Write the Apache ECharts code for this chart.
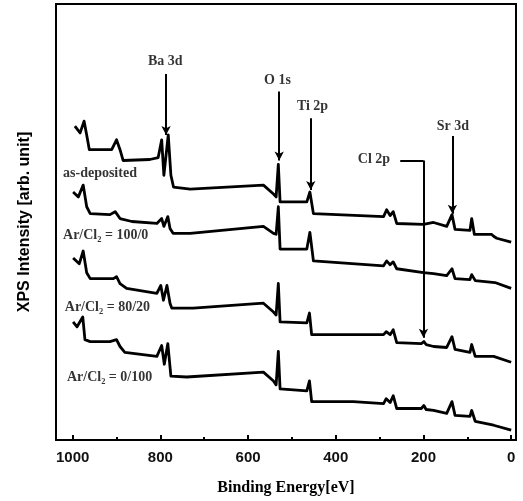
<!DOCTYPE html>
<html>
<head>
<meta charset="utf-8">
<script src="https://cdn.jsdelivr.net/npm/echarts@6/dist/echarts.min.js"></script>
<style>
  html, body { margin: 0; padding: 0; background: #fff; }
  #chart { width: 523px; height: 501px; }
</style>
</head>
<body>
<div id="chart"></div>
<script>
// 结合能 (eV) 与强度 (arb. unit)
const asDeposited = [
  [995, 319], [983, 312], [974, 324], [968, 310], [962, 295], [911, 295], [900, 305], [892, 295],
  [885, 284], [824, 285], [805, 287], [797, 305], [792, 269], [782, 310], [776, 269], [770, 257],
  [732, 255], [565, 259], [542, 250], [536, 247], [531, 280], [527, 242], [466, 242], [459, 252],
  [451, 230], [291, 227], [284, 234], [276, 228], [269, 232], [261, 220], [200, 219], [177, 221],
  [147, 217], [135, 229], [128, 214], [94, 213], [90, 225], [84, 209], [45, 209], [40, 207],
  [33, 205], [0, 201]
]
const ratio100_0 = [
  [999, 252], [987, 247], [976, 259], [968, 237], [960, 230], [915, 229], [903, 232], [892, 225],
  [865, 222], [808, 220], [797, 225], [792, 217], [783, 227], [778, 215], [771, 210], [732, 210],
  [565, 217], [542, 210], [536, 209], [531, 237], [527, 194], [466, 194], [459, 211], [451, 182],
  [291, 177], [284, 182], [276, 178], [269, 181], [261, 174], [200, 170], [177, 169], [147, 167],
  [135, 174], [128, 164], [94, 163], [90, 168], [82, 162], [37, 160], [0, 154]
]
const ratio80_20 = [
  [999, 185], [985, 179], [976, 192], [968, 170], [960, 164], [907, 164], [900, 166], [892, 159],
  [877, 154], [808, 149], [799, 157], [793, 142], [785, 157], [778, 139], [774, 134], [725, 134],
  [565, 139], [542, 130], [536, 127], [531, 159], [527, 120], [466, 119], [460, 129], [455, 107],
  [360, 107], [291, 107], [285, 110], [276, 107], [269, 112], [261, 99], [205, 98], [199, 100],
  [194, 97], [177, 95], [147, 94], [135, 105], [128, 92], [94, 89], [90, 97], [82, 85],
  [40, 85], [0, 79]
]
const ratio0_100 = [
  [999, 120], [990, 115], [977, 125], [972, 102], [960, 100], [915, 100], [900, 102], [892, 95],
  [881, 89], [808, 85], [797, 96], [791, 77], [783, 98], [776, 65], [740, 64], [565, 69],
  [542, 60], [536, 56], [531, 90], [527, 52], [466, 50], [460, 60], [455, 39], [360, 39],
  [291, 37], [285, 42], [276, 38], [269, 45], [261, 32], [205, 32], [199, 35], [194, 31],
  [177, 30], [147, 27], [135, 39], [128, 25], [94, 24], [90, 30], [82, 19], [40, 15], [0, 10]
]

// 刻度
const majorTicks = [0, 200, 400, 600, 800, 1000]
const minorTicks = [100, 300, 500, 700, 900]

// 峰位标注: [文字, 文字x, 文字y, 箭头x, 箭头起点y, 箭头终点y]
const peakLabels = [
  ['Ba 3d', 789, 385, 787, 372, 310],
  ['O 1s', 533, 365, 529, 354, 284],
  ['Ti 2p', 453, 339, 457, 327, 254],
  ['Sr 3d', 133, 319, 134, 309, 230]
]
const clLabel = ['Cl 2p', 313, 285, 253, 200, 284, 104]

// 曲线名称: [文字, 左端x, y]
const curveLabels = [
  ['as-deposited', 1022, 271],
  ['Ar/Cl\u2082 = 100/0', 1022, 208],
  ['Ar/Cl\u2082 = 80/20', 1018, 135],
  ['Ar/Cl\u2082 = 0/100', 1013, 64]
]

const serif = '"Liberation Serif", "DejaVu Serif", serif'
const sans = '"Liberation Sans", Arial, sans-serif'

let myChart = echarts.init(document.getElementById('chart'))

let lineSeries = [asDeposited, ratio100_0, ratio80_20, ratio0_100].map(d => {
  return {
    type: 'line',
    data: d,
    showSymbol: false,
    symbol: 'none',
    silent: true,
    lineStyle: { color: '#000', width: 2.8, join: 'round' },
    z: 3
  }
})

// 箭头
let arrowLines = peakLabels.map(p => [
  { coord: [p[3], p[4]] },
  { coord: [p[3], p[5]] }
])
arrowLines.push([{ coord: [clLabel[3], clLabel[5]], symbol: 'none' }, { coord: [clLabel[4], clLabel[5]], symbol: 'none' }])
arrowLines.push([{ coord: [clLabel[4], clLabel[5]] }, { coord: [clLabel[4], clLabel[6]] }])

lineSeries[0].markLine = {
  silent: true,
  symbol: ['none', 'arrow'],
  symbolSize: [7, 9],
  label: { show: false },
  lineStyle: { color: '#000', width: 2, type: 'solid' },
  emphasis: { disabled: true },
  data: arrowLines
}

let textData = peakLabels.map(p => ({ name: p[0], value: [p[1], p[2]], align: 'center' }))
textData.push({ name: clLabel[0], value: [clLabel[1], clLabel[2]], align: 'center' })
curveLabels.forEach(c => {
  textData.push({ name: c[0], value: [c[1], c[2]], align: 'left' })
})

let textSeries = {
  type: 'scatter',
  symbolSize: 0,
  silent: true,
  z: 5,
  data: textData.map(t => ({
    name: t.name,
    value: t.value,
    label: {
      show: true,
      position: [0, 0],
      formatter: '{b}',
      align: t.align,
      verticalAlign: 'middle',
      color: '#000',
      fontFamily: serif,
      fontWeight: 'bold',
      fontSize: 14
    }
  }))
}

myChart.setOption({
  animation: false,
  grid: {
    left: 56,
    right: 7,
    top: 4,
    bottom: 54,
    show: true,
    borderColor: '#000',
    borderWidth: 2,
    backgroundColor: 'transparent'
  },
  xAxis: [
    {
      type: 'value',
      inverse: true,
      min: -11,
      max: 1038,
      name: 'Binding Energy[eV]',
      nameLocation: 'middle',
      nameGap: 40,
      nameTextStyle: { fontFamily: serif, fontWeight: 'bold', fontSize: 16, color: '#000' },
      axisLine: { show: true, lineStyle: { color: '#000', width: 2 } },
      axisTick: { show: true, inside: true, length: 5, customValues: majorTicks, lineStyle: { color: '#000', width: 2 } },
      axisLabel: {
        show: true,
        customValues: majorTicks,
        margin: 10,
        formatter: v => String(v),
        fontFamily: sans,
        fontWeight: 'bold',
        fontSize: 15,
        color: '#111'
      },
      splitLine: { show: false }
    },
    {
      type: 'value',
      inverse: true,
      min: -11,
      max: 1038,
      position: 'bottom',
      axisLine: { show: false },
      axisTick: { show: true, inside: true, length: 3, customValues: minorTicks, lineStyle: { color: '#000', width: 2 } },
      axisLabel: { show: false },
      splitLine: { show: false }
    }
  ],
  yAxis: {
    type: 'value',
    min: 0,
    max: 443,
    name: 'XPS Intensity [arb. unit]',
    nameLocation: 'middle',
    nameGap: 23,
    nameTextStyle: { fontFamily: sans, fontWeight: 'bold', fontSize: 16, color: '#000' },
    axisLine: { show: false },
    axisTick: { show: false },
    axisLabel: { show: false },
    splitLine: { show: false }
  },
  series: lineSeries.concat([textSeries])
})
</script>
</body>
</html>
